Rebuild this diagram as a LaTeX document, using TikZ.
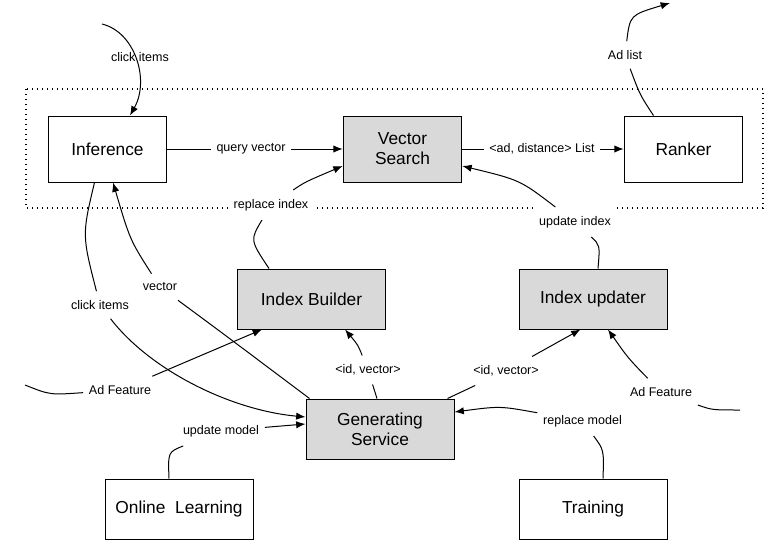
\documentclass[tikz,border=0pt]{standalone}
\usepackage{fontspec}
\setmainfont{Liberation Sans}
\usetikzlibrary{arrows.meta,calc}
\definecolor{boxgray}{RGB}{217,217,217}

\begin{document}
\begin{tikzpicture}[x=0.75pt,y=-0.75pt,line width=0.75pt,
		>={Latex[length=7pt,width=5.5pt]},
		topbox/.style={draw,minimum width=89pt,minimum height=49.5pt,align=center,font=\fontsize{13}{15}\selectfont},
		lowbox/.style={draw,minimum width=111pt,minimum height=45pt,align=center,font=\fontsize{13}{15}\selectfont},
		shaded/.style={fill=boxgray},
		lbl/.style={fill=white,inner xsep=4pt,inner ysep=6.5pt,font=\fontsize{9.4}{11}\selectfont}]
		\useasboundingbox (0,0) rectangle (772,550);
		\draw[line width=0.9pt,dash pattern=on 1pt off 2.75pt] (26,89) rectangle (763,208);
		% boxes
		\draw (107.5,149) node [topbox] (inf) {Inference};
		\draw (402.5,149) node [topbox,shaded] (vs) {Vector\\Search};
		\draw (683.5,149) node [topbox] (rk) {Ranker};
		\draw (311.5,299) node [lowbox,shaded] (ib) {Index Builder};
		\draw (593,299) node [lowbox,shaded] (iu) {Index updater};
		\draw (380,429) node [lowbox,shaded] (gs) {Generating\\Service};
		\draw (179,509) node [lowbox] (ol) {Online\ \ Learning};
		\draw (593,509) node [lowbox] (tr) {Training};
		% labels
		\draw (140,57) node [lbl,fill=none] (ctop) {click items};
		\draw (251,149) node [lbl] (qv) {query vector};
		\draw (542,149) node [lbl] (adl) {<ad, distance> List};
		\draw (625,55) node [lbl] (adlist) {Ad list};
		\draw (271,205) node [lbl] (ri) {replace index};
		\draw (575,222) node [lbl] (ui) {update index};
		\draw (100,305) node [lbl] (ci) {click items};
		\draw (160,287) node [lbl] (vec) {vector};
		\draw (120,390) node [lbl] (af1) {Ad Feature};
		\draw (368,370) node [lbl] (idv1) {<id, vector>};
		\draw (506,371) node [lbl] (idv2) {<id, vector>};
		\draw (661,392) node [lbl] (af2) {Ad Feature};
		\draw (582.5,421) node [lbl] (rm) {replace model};
		\draw (221,431) node [lbl] (um) {update model};
		% free ends
		\coordinate (intop) at (102,24);
		\coordinate (adout) at (670,3);
		\coordinate (afleft) at (25,385);
		\coordinate (afright) at (740,410);
		% connectors
		\draw[->] (intop) .. controls (135,32) and (150,80) .. ($(inf.north)+(22.5,0)$);
		\draw[->] (inf) -- (qv) -- (vs);
		\draw[->] (vs) -- (adl) -- (rk);
		\draw[->] ($(rk.north)+(-30,0)$) .. controls (640,95) .. (adlist) .. controls (630,15) .. (adout);
		\draw[->] ($(ib.north)+(-42.5,0)$) .. controls (250,240) .. (ri) .. controls (305,182) .. ($(vs.west)+(0,17)$);
		\draw[->] ($(iu.north)+(5,0)$) .. controls (600,245) .. (ui) .. controls (520,180) .. ($(vs.east)+(0,17)$);
		\draw[->] ($(inf.south)+(-13,0)$) .. controls (82,235) .. (ci) .. controls (150,370) and (230,410) .. ($(gs.west)+(0,-12)$);
		\draw[->] ($(gs.north west)+(4,0)$) .. controls (225,335) .. (vec) .. controls (130,240) .. ($(inf.south)+(5.5,0)$);
		\draw[->] (afleft) .. controls (50,395) .. (af1) -- ($(ib.south west)+(25,0)$);
		\draw[->] ($(gs.north)+(-3,0)$) -- (idv1) .. controls (358,345) .. ($(ib.south east)+(-41,0)$);
		\draw[->] ($(gs.north east)+(-7,0)$) -- (idv2) -- ($(iu.south west)+(62,0)$);
		\draw[->] (afright) .. controls (712,410) .. (af2) .. controls (628,358) .. ($(iu.south)+(15,0)$);
		\draw[->] ($(tr.north)+(10,0)$) .. controls (604,450) .. (rm) .. controls (500,406) .. ($(gs.east)+(0,-17)$);
		\draw[->] ($(ol.north)+(-10,0)$) .. controls (168,452) .. (um) -- ($(gs.west)+(0,-5)$);
	\end{tikzpicture}
\end{document}
